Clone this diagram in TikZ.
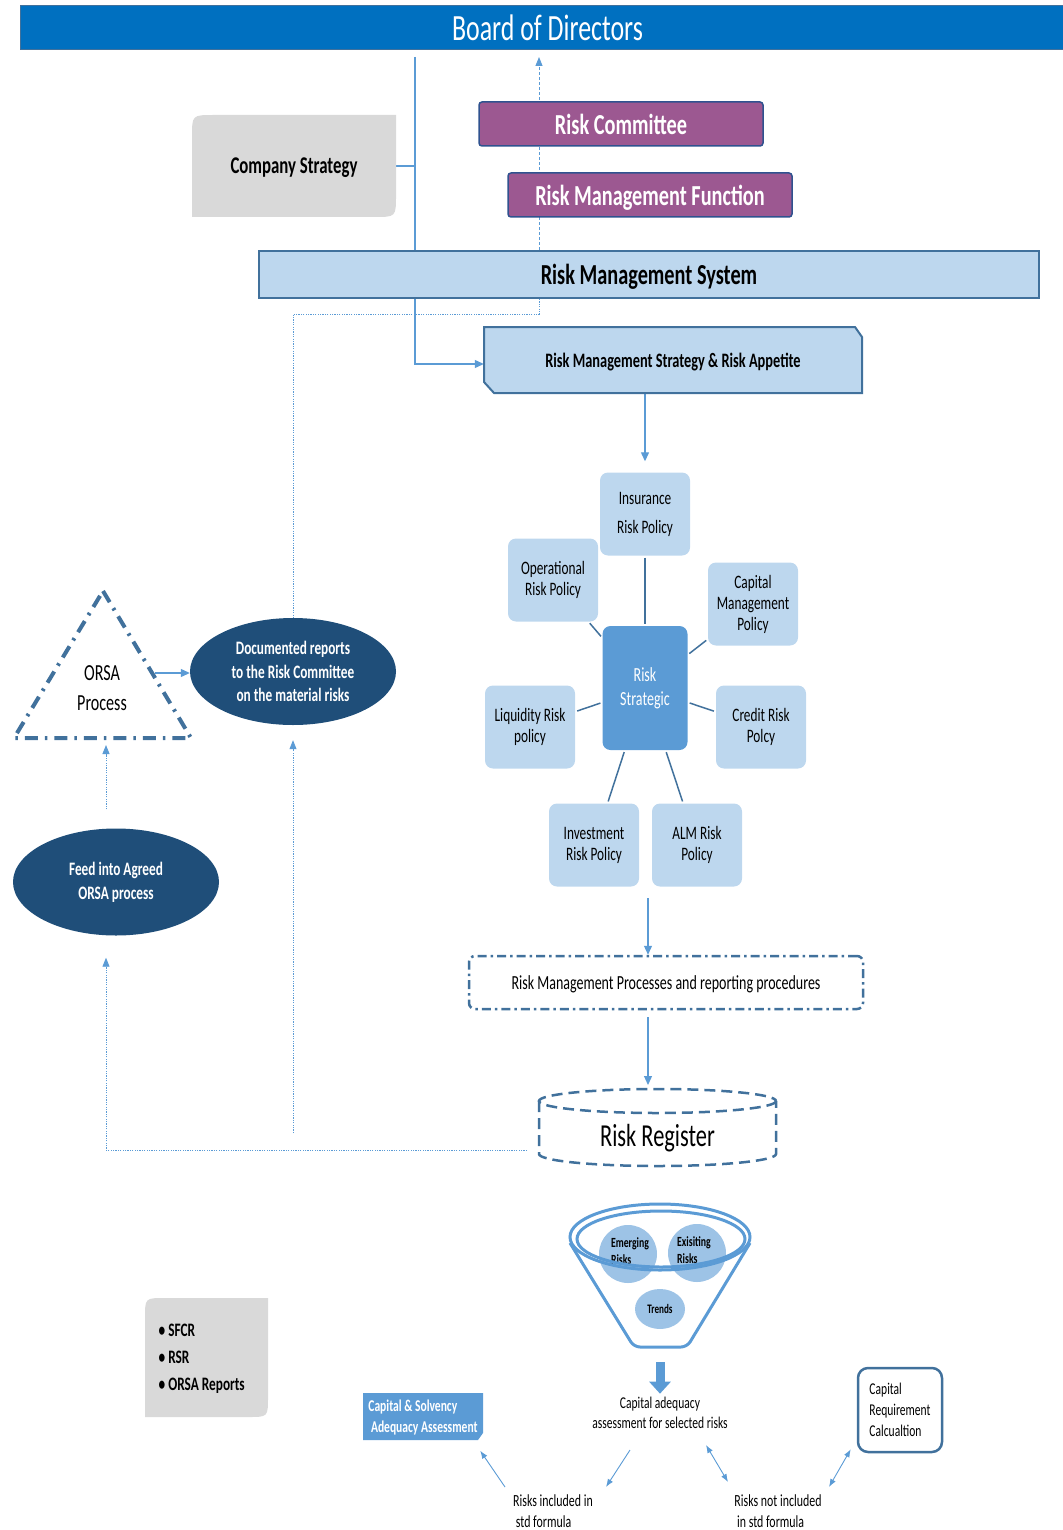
\documentclass[tikz,border=0pt]{standalone}
\usepackage{fontspec}
\setmainfont{Carlito}[FakeStretch=0.7]
\usetikzlibrary{
  arrows.meta,
  positioning,
  shapes.geometric,
  backgrounds
}
\definecolor{boardblue}{RGB}{0,112,192}
\definecolor{rcpurple}{RGB}{156,88,145}
\definecolor{rcedge}{RGB}{47,82,143}
\definecolor{paleblue}{RGB}{189,215,238}
\definecolor{edgeblue}{RGB}{65,113,156}
\definecolor{midblue}{RGB}{91,155,213}
\definecolor{navyblue}{RGB}{31,78,121}
\definecolor{softgray}{RGB}{217,217,217}
\definecolor{bubbleblue}{RGB}{157,195,230}
\newcommand{\fsz}[2]{\fontsize{#1}{#2}\selectfont}

\begin{document}
\begin{tikzpicture}[x=1pt, y=-1pt,
  purplebox/.style={fill=rcpurple, draw=rcedge, line width=1.5pt, rounded corners=3pt,
    minimum width=284, minimum height=44, text=white, text depth=0pt, font=\fsz{29}{32}\bfseries},
  polbox/.style={fill=paleblue, rounded corners=8pt, minimum width=90, minimum height=83,
    align=center, font=\fsz{19}{21}},
  darkoval/.style={ellipse, fill=navyblue, minimum width=206, minimum height=107,
    text=white, align=center, font=\fsz{19}{23.5}\bfseries},
  bubble/.style={circle, fill=bubbleblue, minimum size=58, inner sep=0pt, align=left,
    font=\fsz{14}{17}\bfseries},
  spoke/.style={draw=edgeblue, line width=1.5pt, shorten <=2pt, shorten >=2pt},
  arr/.style={draw=midblue, line width=1.2pt, -{Triangle[length=9pt,width=8pt]}},
  dotline/.style={draw=midblue, line width=0.9pt, dash pattern=on 1.2pt off 1.2pt},
  dotarr/.style={dotline, -{Triangle[length=9pt,width=7pt]}},
  thinarr/.style={draw=midblue, line width=0.9pt, -{Latex[length=8pt,width=6pt]}},
  dblarr/.style={draw=midblue, line width=0.9pt, {Latex[length=8pt,width=6pt]}-{Latex[length=8pt,width=6pt]}},
  regline/.style={draw=edgeblue, line width=2.5pt, dash pattern=on 11pt off 6pt},
  funnel/.style={draw=midblue, line width=3pt}
]
\useasboundingbox (0,0) rectangle (1062,1530);

  % Top of the structure
  \node[fill=boardblue, draw=edgeblue, line width=1pt, minimum width=1054, minimum height=44,
        anchor=north west, text=white, text depth=0pt, font=\fsz{37}{40}] (board) at (20,5) {Board of Directors};

  \fill[softgray] (192,217) -- (192,137) .. controls (192,115) .. (214,115) -- (396,115)
    -- (396,195) .. controls (396,217) .. (374,217) -- cycle;
  \node[minimum width=204, minimum height=102, text depth=0pt, font=\fsz{24}{28}\bfseries] (compstrat) at (294,166) {Company Strategy};

  \node[purplebox] (riskcom) at (621,124) {Risk Committee};
  \node[purplebox] (rmfunc) at (650,195) {Risk Management Function};

  \node[fill=paleblue, draw=edgeblue, line width=2pt, minimum width=780, minimum height=47, text depth=0pt,
        font=\fsz{29}{32}\bfseries] (rms) at (649,274.5) {Risk Management System};

  \filldraw[fill=paleblue, draw=edgeblue, line width=2pt] (484,327) -- (855,327) -- (862,337)
    -- (862,393) -- (494,393) -- (484,382) -- cycle;
  \node[minimum width=378, minimum height=66, text depth=0pt, font=\fsz{20.5}{24}\bfseries] (rmsra) at (673,360) {Risk Management Strategy \& Risk Appetite};

  % Policies round the risk strategy
  \node[polbox, font=\fsz{19}{29}] (insur) at (645,514) {Insurance\\Risk Policy};
  \node[polbox] (operat) at (553,580) {Operational\\Risk Policy};
  \node[polbox] (capman) at (753,604) {Capital\\Management\\Policy};
  \node[polbox] (liquid) at (530,727) {Liquidity Risk\\policy};
  \node[polbox] (credit) at (761,727) {Credit Risk\\Polcy};
  \node[polbox] (invest) at (594,845) {Investment\\Risk Policy};
  \node[polbox] (almrisk) at (697,845) {ALM Risk\\Policy};
  \node[polbox, fill=midblue, minimum width=85, minimum height=124, text=white,
        font=\fsz{20}{24}] (riskstrat) at (645,688) {Risk\\Strategic};
  \foreach \p in {insur,operat,capman,liquid,credit,invest,almrisk}
    \draw[spoke] (\p) -- (riskstrat);

  % Processes and register
  \node[draw=edgeblue, line width=2.5pt, dash pattern=on 9pt off 4pt on 2.5pt off 4pt, rounded corners=6pt,
        minimum width=394, minimum height=53, text depth=0pt, font=\fsz{20}{24}] (process) at (666,982.5)
        {Risk Management Processes and reporting procedures};

  \node[minimum width=237, minimum height=62, text depth=0pt, font=\fsz{32}{36}] (register) at (657.5,1135) {Risk Register};
  \draw[regline] (657.5,1101) ellipse [x radius=118.5, y radius=12];
  \draw[regline] (539,1101) -- (539,1154) arc[start angle=180, end angle=0, x radius=118.5, y radius=12] -- (776,1101);

  % ORSA side
  \draw[draw=edgeblue, line width=4pt, dash pattern=on 13pt off 7pt on 2.5pt off 7pt]
    (103,591) -- (191,738) -- (14,738) -- cycle;
  \node[font=\fsz{23}{30}, align=center] (orsa) at (102,688) {ORSA\\Process};
  \node[darkoval] (docrep) at (293,671.5) {Documented reports\\to the Risk Committee\\on the material risks};
  \node[darkoval, font=\fsz{19}{24}\bfseries] (feed) at (116,882) {Feed into Agreed\\ORSA process};

  \fill[softgray] (145,1417) -- (145,1318) .. controls (145,1298) .. (165,1298) -- (268,1298)
    -- (268,1397) .. controls (268,1417) .. (248,1417) -- cycle;
  \node[anchor=west, align=left, font=\fsz{19}{27}\bfseries] (reports) at (155,1359)
    {\textbullet\,SFCR\\\textbullet\,RSR\\\textbullet\,ORSA Reports};

  % Funnel
  \draw[funnel, rounded corners=6pt] (570,1243) -- (634,1347) -- (687,1347) -- (750,1243);
  \node[bubble] (emerg) at (628,1254) {};
  \node[bubble] (exist) at (697,1253) {};
  \node[align=left, font=\fsz{14}{17}\bfseries] (emergtxt) at (630,1251) {Emerging\\Risks};
  \node[align=left, font=\fsz{14}{17}\bfseries] (existtxt) at (694,1250) {Exisiting\\Risks};
  \node[bubble, ellipse, minimum width=50, minimum height=40, font=\fsz{13}{15}\bfseries] (trends) at (660,1309) {Trends};
  \draw[funnel] (660,1237) ellipse [x radius=90, y radius=33];
  \draw[funnel] (661,1239) ellipse [x radius=84, y radius=28];

  % Capital assessment
  \node[font=\fsz{16.5}{20}, align=center] (capadeq) at (660,1413) {Capital adequacy\\assessment for selected risks};
  \fill[midblue] (363,1393) -- (483,1393) -- (483,1433) -- (478,1440) -- (363,1440) -- cycle;
  \node[minimum width=120, minimum height=47, align=left, text=white, font=\fsz{16.5}{21}\bfseries] (capsolv)
    at (423,1417) {Capital \& Solvency\\\ Adequacy Assessment};
  \node[draw=edgeblue, line width=2.5pt, rounded corners=10pt, minimum width=84, minimum height=84,
        align=left, font=\fsz{16.5}{21}] (capreq) at (900,1410) {Capital\\Requirement\\Calcualtion};
  \node[align=left, font=\fsz{17}{21}] (inclstd) at (553,1511) {Risks included in\\\ std formula};
  \node[align=left, font=\fsz{17}{21}] (notincl) at (778,1511) {Risks not included\\\ in std formula};

  % Connectors
  \begin{scope}[on background layer]
    \coordinate (bodtip) at (539,57);
    \coordinate (bodleft) at (415,57);
    \coordinate (rmsdrop) at (539,314);
    \coordinate (docfoot) at (293,1133);
    \coordinate (regleft) at (527,1150);
    \coordinate (orsabase) at (106,745);
    \coordinate (orsaright) at (155,673);
    \coordinate (polbottom) at (648,898);
    \coordinate (regtop) at (648,1085);
    \draw[dotline, dash pattern=on 3pt off 2pt, -{Triangle[length=9pt,width=7pt]}] (rms.north -| bodtip) -- (bodtip);
    \draw[arr] (bodleft) |- ([yshift=-4pt]rmsra.west);
    \draw[draw=midblue, line width=1.2pt] (compstrat.east) -- (compstrat.east -| bodleft);
    \draw[dotline] (rms.south -| rmsdrop) -- (rmsdrop) -| (docrep.north);
    \draw[dotarr] (docfoot) -- ([yshift=-15pt]docrep.south);
    \draw[dotarr] (regleft) -| ([xshift=-10pt,yshift=-22pt]feed.south);
    \draw[dotarr] ([xshift=-10pt,yshift=19pt]feed.north) -- (orsabase);
    \draw[arr] (orsaright) -- (orsaright -| docrep.west);
    \draw[arr] (rmsra.south -| insur.north) -- ([yshift=11pt]insur.north);
    \draw[arr] (polbottom) -- (polbottom |- process.north);
    \draw[arr, shorten <=7pt] (process.south -| polbottom) -- (regtop);
  \end{scope}

  \coordinate (funneltip) at (660,1362);
  \draw[draw=midblue, line width=9pt, -{Triangle[length=12pt,width=21pt]}] (funneltip) -- (funneltip |- capadeq.north);
  \coordinate (inclleft) at (505,1487);
  \coordinate (adeqleft) at (630,1450);
  \coordinate (inclright) at (606,1487);
  \coordinate (adeqright) at (706,1445);
  \coordinate (notinleft) at (728,1482);
  \coordinate (notinright) at (829,1487);
  \draw[thinarr] (inclleft) -- ([xshift=-3pt,yshift=-10pt]capsolv.south east);
  \draw[thinarr] (adeqleft) -- (inclright);
  \draw[dblarr] (adeqright) -- (notinleft);
  \draw[dblarr] (notinright) -- ([xshift=-6pt,yshift=4pt]capreq.south west);
\end{tikzpicture}
\end{document}
